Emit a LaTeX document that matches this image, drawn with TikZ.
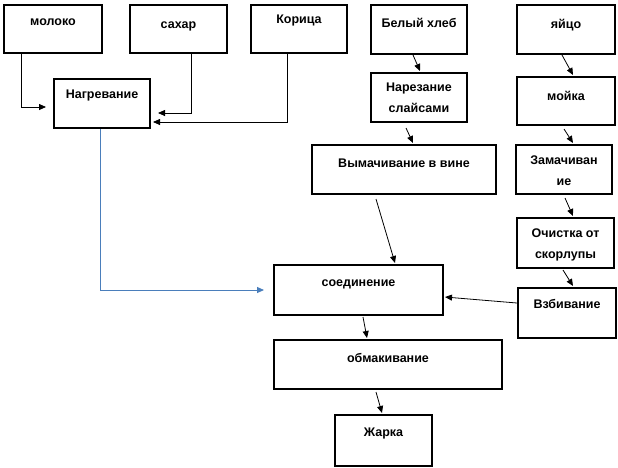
\documentclass[tikz,border=0pt]{standalone}
\usepackage{fontspec}
\setmainfont{Liberation Sans}
\usetikzlibrary{arrows.meta}
\definecolor{wordblue}{RGB}{74,126,187}
\begin{document}
\begin{tikzpicture}[x=1pt,y=-1pt,
  box/.style={draw=black,line width=2pt,rectangle,anchor=north west,inner sep=0pt},
  txt/.style={font=\fontsize{12.5}{21}\selectfont\bfseries,inner sep=0pt,anchor=base,align=center},
  txttwo/.style={txt,anchor=north},
  arr/.style={line width=0.8pt,draw=black,-{Triangle[length=7pt,width=6pt]}},
  bluearr/.style={line width=1pt,draw=wordblue,-{Triangle[length=7pt,width=6pt]}}]
\useasboundingbox (0,0) rectangle (618,467);
% boxes
\node[box,minimum width=98pt,minimum height=48pt] (moloko) at (3,4) {};
\node[box,minimum width=97pt,minimum height=48pt] (sahar) at (129,4) {};
\node[box,minimum width=96pt,minimum height=48pt] (korica) at (250,4) {};
\node[box,minimum width=96pt,minimum height=49pt] (nagrev) at (53,78) {};
\node[box,minimum width=96pt,minimum height=49pt] (hleb) at (370,4) {};
\node[box,minimum width=98pt,minimum height=49pt] (yaico) at (516,4) {};
\node[box,minimum width=96pt,minimum height=49pt] (narez) at (370,72) {};
\node[box,minimum width=98pt,minimum height=48pt] (moika) at (516,76) {};
\node[box,minimum width=184pt,minimum height=49pt] (vymach) at (311,144) {};
\node[box,minimum width=96pt,minimum height=49pt] (zamach) at (515,144) {};
\node[box,minimum width=97pt,minimum height=50pt] (ochist) at (516,217) {};
\node[box,minimum width=169pt,minimum height=50pt] (soed) at (273,264) {};
\node[box,minimum width=98pt,minimum height=50pt] (vzbiv) at (517,287) {};
\node[box,minimum width=228pt,minimum height=49pt] (obmak) at (273,339) {};
\node[box,minimum width=97pt,minimum height=51pt] (zharka) at (334,414) {};
% texts
\node[txt] (t-moloko) at ([shift={(0,21)}]moloko.north) {молоко};
\node[txt] (t-sahar) at ([shift={(0,24)}]sahar.north) {сахар};
\node[txt] (t-korica) at ([shift={(0,19)}]korica.north) {Корица};
\node[txt] (t-nagrev) at ([shift={(0,20)}]nagrev.north) {Нагревание};
\node[txt] (t-hleb) at ([shift={(0,23)}]hleb.north) {Белый хлеб};
\node[txt] (t-yaico) at ([shift={(0,24)}]yaico.north) {яйцо};
\node[txttwo] (t-narez) at ([shift={(0,11)}]narez.north) {Нарезание\\слайсами};
\node[txt] (t-moika) at ([shift={(0,24)}]moika.north) {мойка};
\node[txt] (t-vymach) at ([shift={(0,23)}]vymach.north) {Вымачивание в вине};
\node[txttwo] (t-zamach) at ([shift={(0,12)}]zamach.north) {Замачиван\\ие};
\node[txttwo] (t-ochist) at ([shift={(0,12)}]ochist.north) {Очистка от\\скорлупы};
\node[txt] (t-soed) at ([shift={(0,22)}]soed.north) {соединение};
\node[txt] (t-vzbiv) at ([shift={(0,21)}]vzbiv.north) {Взбивание};
\node[txt] (t-obmak) at ([shift={(0,23)}]obmak.north) {обмакивание};
\node[txt] (t-zharka) at ([shift={(0,22)}]zharka.north) {Жарка};
% connectors
\draw[arr] ([shift={(18,0)}]moloko.south west) |- ([shift={(-7,29)}]nagrev.north west);
\draw[arr] ([shift={(62,0)}]sahar.south west) |- ([shift={(7,35)}]nagrev.north east);
\draw[arr] ([shift={(37,0)}]korica.south west) |- ([shift={(2,44)}]nagrev.north east);
\draw[bluearr] ([shift={(47,0)}]nagrev.south west) |- ([shift={(-9,26)}]soed.north west);
\draw[arr] ([shift={(43,0)}]hleb.south west) -- ([shift={(50,-1)}]narez.north west);
\draw[arr] ([shift={(36,5)}]narez.south west) -- ([shift={(102,-1)}]vymach.north west);
\draw[arr] ([shift={(46,0)}]yaico.south west) -- ([shift={(57,-1)}]moika.north west);
\draw[arr] ([shift={(48,3)}]moika.south west) -- ([shift={(58,-1)}]zamach.north west);
\draw[arr] ([shift={(50,3)}]zamach.south west) -- ([shift={(57,-1)}]ochist.north west);
\draw[arr] ([shift={(47,1)}]ochist.south west) -- ([shift={(56,-1)}]vzbiv.north west);
\draw[arr] ([shift={(65,4)}]vymach.south west) -- ([shift={(122,-1)}]soed.north west);
\draw[arr] ([shift={(0,16)}]vzbiv.north west) -- ([shift={(1,33)}]soed.north east);
\draw[arr] ([shift={(90,1)}]soed.south west) -- ([shift={(94,-1)}]obmak.north west);
\draw[arr] ([shift={(103,2)}]obmak.south west) -- ([shift={(48,-1)}]zharka.north west);
\end{tikzpicture}
\end{document}
